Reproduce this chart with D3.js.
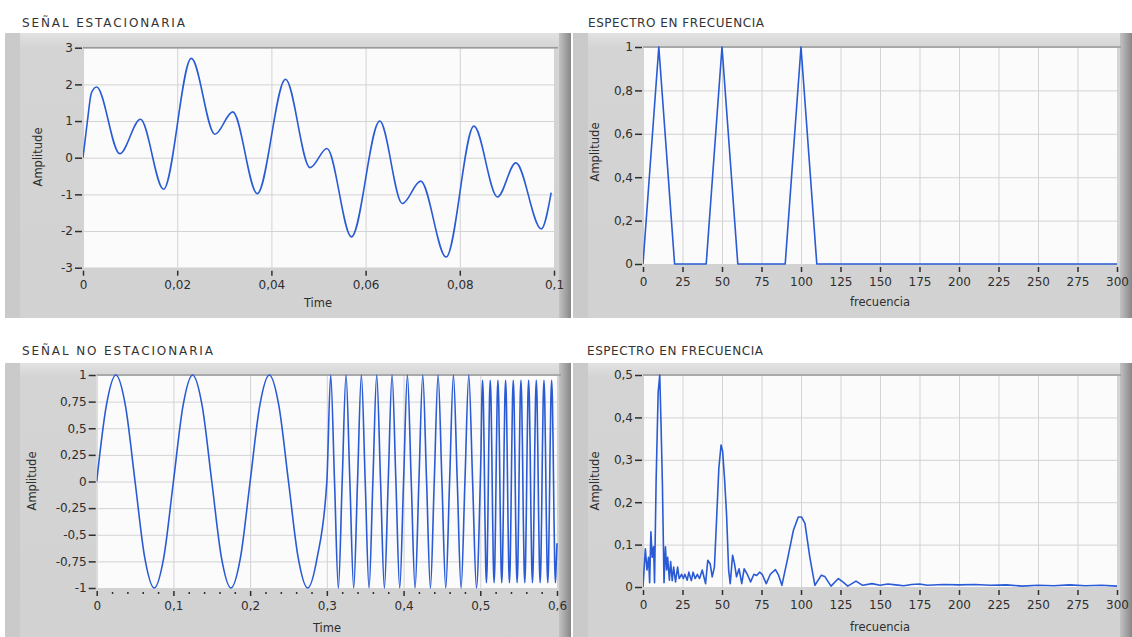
<!DOCTYPE html>
<html>
<head>
<meta charset="utf-8">
<script src="https://cdn.jsdelivr.net/npm/d3@7/dist/d3.min.js"></script>
<style>
  body { margin: 0; background: #ffffff; }
  svg { display: block; font-family: "DejaVu Sans", Verdana, sans-serif; }
</style>
</head>
<body>
<script>
/*
Four LabVIEW style graphs: a stationary and a non stationary
signal, each with its frequency spectrum
*/

// stationary signal, read at its turning points
var statTime = [0, 0.0009, 0.0018, 0.0029, 0.0078, 0.0122, 0.0171, 0.0230,
                0.0280, 0.0318, 0.0370, 0.0430, 0.0482, 0.0518, 0.0570,
                0.0630, 0.0678, 0.0717, 0.0771, 0.0830, 0.0880, 0.0919,
                0.0973, 0.0994];
var statAmp = [0, 0.96, 1.77, 1.93, 0.11, 1.05, -0.86, 2.71, 0.64, 1.25,
               -0.98, 2.14, -0.27, 0.25, -2.16, 1.00, -1.25, -0.64, -2.71,
               0.86, -1.07, -0.14, -1.94, -0.95];

// spectrum of the stationary signal (10 Hz bins)
var specFreq = [0, 10, 20, 30, 40, 50, 60, 70, 80, 90, 100, 110, 120, 130,
                140, 150, 160, 170, 180, 190, 200, 210, 220, 230, 240, 250,
                260, 270, 280, 290, 300];
var specAmp = [0, 1, 0, 0, 0, 1, 0, 0, 0, 0, 1, 0, 0, 0, 0, 0, 0, 0, 0, 0,
               0, 0, 0, 0, 0, 0, 0, 0, 0, 0, 0];

// non stationary signal: 10 Hz part, read every 0.0125 s from 0
var nsSlowStart = 0, nsSlowStep = 0.0125;
var nsSlowAmp = [0, 0.71, 1, 0.71, 0, -0.71, -1, -0.71,
                 0, 0.71, 1, 0.71, 0, -0.71, -1, -0.71,
                 0, 0.71, 1, 0.71, 0, -0.71, -1, -0.71, 0];

// 50 Hz part, read every 0.005 s from 0.305
var nsMidStart = 0.305, nsMidStep = 0.005;
var nsMidAmp = [1, 0, -1, 0, 1, 0, -1, 0, 1, 0, -1, 0, 1, 0, -1, 0,
                1, 0, -1, 0, 1, 0, -1, 0, 1, 0, -1, 0, 1, 0, -1, 0,
                1, 0, -1, 0, 1, 0, -1, 0];

// 100 Hz part, samples every 0.001 s from 0.501
var nsFastStart = 0.501, nsFastStep = 0.001;
var nsFastAmp = [
  0.30, 0.77, 0.95, 0.77, 0.30, -0.30, -0.77, -0.95, -0.77, -0.30,
  0.30, 0.77, 0.95, 0.77, 0.30, -0.30, -0.77, -0.95, -0.77, -0.30,
  0.30, 0.77, 0.95, 0.77, 0.30, -0.30, -0.77, -0.95, -0.77, -0.30,
  0.30, 0.77, 0.95, 0.77, 0.30, -0.30, -0.77, -0.95, -0.77, -0.30,
  0.30, 0.77, 0.95, 0.77, 0.30, -0.30, -0.77, -0.95, -0.77, -0.30,
  0.30, 0.77, 0.95, 0.77, 0.30, -0.30, -0.77, -0.95, -0.77, -0.30,
  0.30, 0.77, 0.95, 0.77, 0.30, -0.30, -0.77, -0.95, -0.77, -0.30,
  0.30, 0.77, 0.95, 0.77, 0.30, -0.30, -0.77, -0.95, -0.77, -0.30,
  0.30, 0.77, 0.95, 0.77, 0.30, -0.30, -0.77, -0.95, -0.77, -0.30,
  0.30, 0.77, 0.95, 0.77, 0.30, -0.30, -0.77, -0.95, -0.77, -0.58
];

// spectrum of the non stationary signal
var nsSpecFreq = [0, 1.5, 2.5, 3.5, 4.2, 5, 5.8, 6.7, 7.3, 8.3, 9.6, 10.6,
                  11.5, 12.3, 13.3, 14.2, 15, 15.6, 16.7, 17.5, 18.5, 19.4,
                  20.6, 21.9, 22.9, 24.4, 25.5, 26.5, 28, 29, 30.6, 31.7,
                  33, 34.4, 35.8, 37.5, 38.8, 39.6, 41, 42.5, 43.8, 45.2,
                  46.7, 48, 49.4, 50.4, 51.7, 52.9, 54.2, 55.2, 56.7, 57.9,
                  59.2, 60.8, 62.5, 64, 66, 68.1, 70.2, 71.9, 73.8, 75.4,
                  78, 80.6, 83.8, 85.8, 87.9, 91.7, 95.2, 98.3, 100.4, 102.5,
                  105.6, 108.8, 112.9, 115, 119, 123.7, 126.5, 129.6, 134.8,
                  139, 145, 150, 155, 160, 165, 170, 175, 180, 190, 200, 210,
                  220, 230, 240, 250, 260, 270, 280, 290, 300];
var nsSpecAmp = [0, 0.09, 0.04, 0.07, 0.01, 0.13, 0.07, 0.095, 0.01, 0.25,
                 0.46, 0.5, 0.37, 0.24, 0.01, 0.095, 0.04, 0.07, 0.016, 0.06,
                 0.015, 0.047, 0.012, 0.047, 0.02, 0.03, 0.02, 0.03, 0.016,
                 0.035, 0.015, 0.035, 0.02, 0.03, 0.02, 0.04, 0.02, 0.008,
                 0.063, 0.055, 0.024, 0.047, 0.17, 0.28, 0.335, 0.32, 0.25,
                 0.17, 0.04, 0.008, 0.075, 0.055, 0.024, 0.043, 0.008, 0.043,
                 0.03, 0.012, 0.03, 0.027, 0.035, 0.03, 0.008, 0.03, 0.041,
                 0.028, 0.004, 0.07, 0.134, 0.165, 0.165, 0.15, 0.07, 0.004,
                 0.028, 0.025, 0.002, 0.02, 0.012, 0.002, 0.014, 0.004, 0.008,
                 0.004, 0.007, 0.005, 0.003, 0.006, 0.007, 0.004, 0.006, 0.005,
                 0.006, 0.004, 0.005, 0.002, 0.004, 0.003, 0.005, 0.003, 0.004,
                 0.002];

// tick values
var timeTicksA = [0, 0.02, 0.04, 0.06, 0.08, 0.1];
var ampTicksA = [-3, -2, -1, 0, 1, 2, 3];
var freqTicks = [0, 25, 50, 75, 100, 125, 150, 175, 200, 225, 250, 275, 300];
var specTicksA = [0, 0.2, 0.4, 0.6, 0.8, 1];
var timeTicksB = [0, 0.1, 0.2, 0.3, 0.4, 0.5, 0.6];
var timeMinorB = [0.02, 0.04, 0.06, 0.08, 0.12, 0.14, 0.16, 0.18, 0.22, 0.24,
                  0.26, 0.28, 0.32, 0.34, 0.36, 0.38, 0.42, 0.44, 0.46, 0.48,
                  0.52, 0.54, 0.56, 0.58];
var ampTicksB = [-1, -0.75, -0.5, -0.25, 0, 0.25, 0.5, 0.75, 1];
var specTicksB = [0, 0.1, 0.2, 0.3, 0.4, 0.5];

// spanish number format (decimal comma)
var locale = d3.formatLocale({
  decimal: ",", thousands: ".", grouping: [3],
  currency: ["", ""], minus: "-"
});
var fmt = locale.format("~g");

var lineColor = "#2a5bd4";
var textColor = "#2e2e2e";

var svg = d3.select("body")
            .append("svg")
            .attr("width", 1132)
            .attr("height", 637);

makeDefs();

// combine the sampled series into point lists
var statData = statTime.map(function(t, i) { return [t, statAmp[i]]; });
var specData = specFreq.map(function(f, i) { return [f, specAmp[i]]; });
var nsData = [];
nsSlowAmp.forEach(function(v, i) { nsData.push([nsSlowStart + i * nsSlowStep, v]); });
nsMidAmp.forEach(function(v, i) { nsData.push([nsMidStart + i * nsMidStep, v]); });
nsFastAmp.forEach(function(v, i) { nsData.push([nsFastStart + i * nsFastStep, v]); });
var nsSpecData = nsSpecFreq.map(function(f, i) { return [f, nsSpecAmp[i]]; });

drawPanel({
  id: "tl", box: [5, 33, 566, 285],
  plot: {x0: 83, x1: 554, y0: 47.7, y1: 267.7},
  title: "SEÑAL ESTACIONARIA", titlePos: [22, 27], titleLen: 163,
  xLabel: "Time", xLabelPos: [318, 307], yLabelPos: [38, 157],
  xDomain: [0, 0.1], yDomain: [-3, 3],
  xTicks: timeTicksA, yTicks: ampTicksA, minor: null,
  data: statData, curve: d3.curveMonotoneX
});

drawPanel({
  id: "tr", box: [573, 33, 559, 285],
  plot: {x0: 643, x1: 1117, y0: 47, y1: 264},
  title: "ESPECTRO EN FRECUENCIA", titlePos: [588, 27], titleLen: 176,
  xLabel: "frecuencia", xLabelPos: [880, 306], yLabelPos: [595, 152],
  xDomain: [0, 300], yDomain: [0, 1],
  xTicks: freqTicks, yTicks: specTicksA, minor: null,
  data: specData, curve: d3.curveLinear
});

drawPanel({
  id: "bl", box: [5, 363, 566, 274],
  plot: {x0: 96.7, x1: 557, y0: 375, y1: 588},
  title: "SEÑAL NO ESTACIONARIA", titlePos: [22, 355], titleLen: 191,
  xLabel: "Time", xLabelPos: [327, 632], yLabelPos: [32, 481],
  xDomain: [0, 0.6], yDomain: [-1, 1],
  xTicks: timeTicksB, yTicks: ampTicksB, minor: timeMinorB,
  data: nsData, curve: d3.curveMonotoneX
});

drawPanel({
  id: "br", box: [573, 363, 559, 274],
  plot: {x0: 643, x1: 1117, y0: 375, y1: 587},
  title: "ESPECTRO EN FRECUENCIA", titlePos: [587, 355], titleLen: 176,
  xLabel: "frecuencia", xLabelPos: [880, 631], yLabelPos: [595, 481],
  xDomain: [0, 300], yDomain: [0, 0.5],
  xTicks: freqTicks, yTicks: specTicksB, minor: null,
  data: nsSpecData, curve: d3.curveLinear
});


function makeDefs() {
  /*
  gradients for the grey frames
  */
  var defs = svg.append("defs");

  var panelFill = defs.append("linearGradient")
                      .attr("id", "panelFill")
                      .attr("x1", 0).attr("y1", 0)
                      .attr("x2", 0).attr("y2", 1);
  panelFill.append("stop").attr("offset", "0").attr("stop-color", "#e2e2e2");
  panelFill.append("stop").attr("offset", "0.05").attr("stop-color", "#d4d4d4");
  panelFill.append("stop").attr("offset", "1").attr("stop-color", "#d2d2d2");

  var shadow = defs.append("linearGradient")
                   .attr("id", "shadow")
                   .attr("x1", 0).attr("y1", 0)
                   .attr("x2", 1).attr("y2", 0);
  shadow.append("stop").attr("offset", "0").attr("stop-color", "#c2c2c2");
  shadow.append("stop").attr("offset", "1").attr("stop-color", "#878787");
};


function drawPanel(p) {
  /*
  draws one grey frame with its title, grid,
  axes, labels and signal line
  */
  var b = p.box;
  var g = svg.append("g");

  // grey frame with dark strip on the right
  g.append("rect")
   .attr("x", b[0]).attr("y", b[1])
   .attr("width", b[2]).attr("height", b[3])
   .attr("fill", "url(#panelFill)");
  g.append("rect")
   .attr("x", b[0]).attr("y", b[1])
   .attr("width", 15).attr("height", b[3])
   .attr("fill", "#cacaca");
  g.append("rect")
   .attr("x", b[0] + b[2] - 12).attr("y", b[1])
   .attr("width", 12).attr("height", b[3])
   .attr("fill", "url(#shadow)");

  // title above the frame
  svg.append("text")
     .attr("x", p.titlePos[0])
     .attr("y", p.titlePos[1])
     .attr("textLength", p.titleLen)
     .style("font-size", "12px")
     .style("fill", "#333333")
     .text(p.title);

  // scales
  var x = d3.scaleLinear().domain(p.xDomain).range([p.plot.x0, p.plot.x1]);
  var y = d3.scaleLinear().domain(p.yDomain).range([p.plot.y1, p.plot.y0]);
  var w = p.plot.x1 - p.plot.x0;
  var h = p.plot.y1 - p.plot.y0;

  // plot area
  g.append("rect")
   .attr("x", p.plot.x0).attr("y", p.plot.y0)
   .attr("width", w).attr("height", h)
   .attr("fill", "#fbfbfb");

  // grid lines
  var gridX = g.append("g")
               .attr("transform", "translate(" + [0, p.plot.y1] + ")")
               .call(d3.axisBottom(x).tickValues(p.xTicks)
                       .tickSize(-h).tickFormat(""));
  var gridY = g.append("g")
               .attr("transform", "translate(" + [p.plot.x0, 0] + ")")
               .call(d3.axisLeft(y).tickValues(p.yTicks)
                       .tickSize(-w).tickFormat(""));
  [gridX, gridY].forEach(function(gr) {
    gr.select(".domain").remove();
    gr.selectAll("line").attr("stroke", "#d3d3d3").attr("stroke-width", 1);
  });

  // top edge of the plot area
  g.append("line")
   .attr("x1", p.plot.x0).attr("x2", p.plot.x1 + 4)
   .attr("y1", p.plot.y0).attr("y2", p.plot.y0)
   .attr("stroke", "#9a9a9a")
   .attr("stroke-width", 1.5);

  // y axis
  var yAxis = g.append("g")
               .attr("transform", "translate(" + [p.plot.x0 - 1, 0] + ")")
               .call(d3.axisLeft(y).tickValues(p.yTicks)
                       .tickSize(7).tickPadding(2).tickFormat(fmt));

  // x axis
  var xAxis = g.append("g")
               .attr("transform", "translate(" + [0, p.plot.y1 + 3] + ")")
               .call(d3.axisBottom(x).tickValues(p.xTicks)
                       .tickSize(5).tickPadding(5).tickFormat(fmt));

  [xAxis, yAxis].forEach(function(ax) {
    ax.select(".domain").remove();
    ax.selectAll("line").attr("stroke", textColor).attr("stroke-width", 1.5);
    ax.selectAll("text")
      .style("font-family", "'DejaVu Sans', Verdana, sans-serif")
      .style("font-size", "12px")
      .attr("fill", textColor);
  });

  // minor ticks (dots) on the time axis
  if (p.minor) {
    var minor = g.append("g")
                 .attr("transform", "translate(" + [0, p.plot.y1 + 4] + ")")
                 .call(d3.axisBottom(x).tickValues(p.minor)
                         .tickSize(2).tickFormat(""));
    minor.select(".domain").remove();
    minor.selectAll("line").attr("stroke", textColor).attr("stroke-width", 1.5);
  };

  // axis titles
  g.append("text")
   .attr("x", p.xLabelPos[0])
   .attr("y", p.xLabelPos[1])
   .style("text-anchor", "middle")
   .style("font-size", "11.5px")
   .style("fill", textColor)
   .text(p.xLabel);
  g.append("text")
   .attr("transform", "translate(" + p.yLabelPos + ") rotate(-90)")
   .attr("dy", "0.35em")
   .style("text-anchor", "middle")
   .style("font-size", "11.5px")
   .style("fill", textColor)
   .text("Amplitude");

  // signal line, clipped to the plot area
  g.append("clipPath")
   .attr("id", "clip-" + p.id)
   .append("rect")
   .attr("x", p.plot.x0).attr("y", p.plot.y0 - 1)
   .attr("width", w + 1).attr("height", h + 2);

  var line = d3.line()
               .x(function(d) { return x(d[0]); })
               .y(function(d) { return y(d[1]); })
               .curve(p.curve);

  g.append("path")
   .datum(p.data)
   .attr("clip-path", "url(#clip-" + p.id + ")")
   .attr("fill", "none")
   .attr("stroke", lineColor)
   .attr("stroke-width", 1.6)
   .attr("stroke-linejoin", "round")
   .attr("d", line);
};
</script>
</body>
</html>
